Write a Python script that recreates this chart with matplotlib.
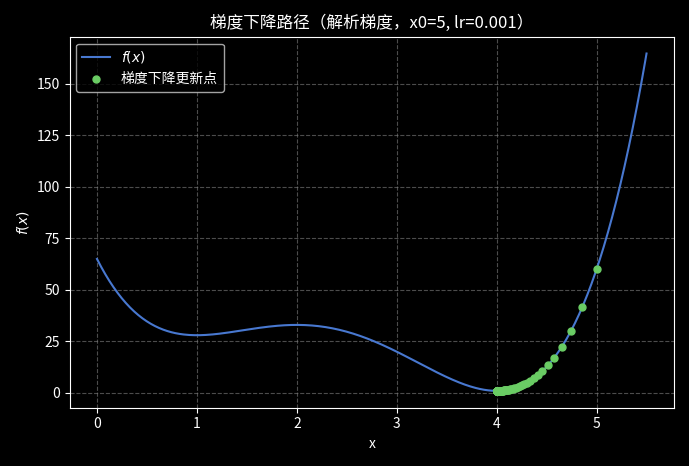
import numpy as np
import matplotlib
matplotlib.use("Agg")
import matplotlib.pyplot as plt

plt.style.use("dark_background")
plt.rcParams['font.family'] = ['Noto Sans CJK SC', 'DejaVu Sans']
plt.rcParams['axes.unicode_minus'] = False

# polynomial coefficients of f(x), highest power first (f(0)=65, f(1)=28, f(2)=33, f(4)=1)
coeffs = [3, -28, 84, -96, 65]
x_range = [0, 5.5]
x0 = 5.0
lr = 0.001
n_steps = 120

f = np.poly1d(coeffs)
df = f.deriv()
xs = np.linspace(x_range[0], x_range[1], 400)

pts = [x0]
for _ in range(n_steps):
    pts.append(pts[-1] - lr * df(pts[-1]))
pts = np.array(pts)

fig, ax = plt.subplots(figsize=(6.89, 4.66), dpi=100)
fig.patch.set_facecolor('black')
ax.set_facecolor('black')
ax.plot(xs, f(xs), color='#4878d0', label='$f(x)$', lw=1.5)
ax.scatter(pts, f(pts), color='#6acc64', s=25, zorder=3, label='梯度下降更新点')
ax.set_title('梯度下降路径（解析梯度，x0=5, lr=0.001）')
ax.set_xlabel('x')
ax.set_ylabel('$f(x)$')
ax.grid(True, linestyle='--', color='gray', alpha=0.6)
ax.legend(loc='upper left')
fig.tight_layout()
fig.savefig('out.png', dpi=100)
